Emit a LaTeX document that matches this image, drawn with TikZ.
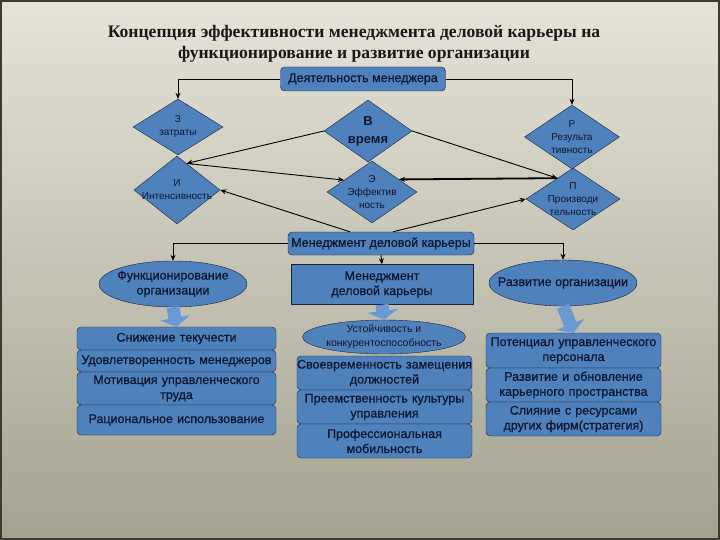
\documentclass[tikz,border=0pt]{standalone}
\usepackage{fontspec}
\setmainfont{Liberation Sans}
\newfontfamily\titlefont{Liberation Serif}
\newfontfamily\boxfont[FakeBold=0.8]{Liberation Sans}
\usetikzlibrary{arrows.meta, positioning, shapes.geometric}
\definecolor{bgTop}{HTML}{E6E4D9}
\definecolor{bgBot}{HTML}{A4A290}
\definecolor{bgEdge}{HTML}{3C3B33}
\definecolor{mBlue}{HTML}{4F81BD}
\definecolor{mArrow}{HTML}{6A99D4}
\definecolor{mInk}{HTML}{0E1630}
\definecolor{mLine}{HTML}{1B2233}

\begin{document}
\begin{tikzpicture}[x=1pt, y=-1pt, >={Stealth[length=6pt, width=5pt]},
      dia/.style={diamond, draw=mLine, fill=mBlue, inner sep=0pt},
      dtxt/.style={align=center, inner sep=0pt, text=mInk,
                   font=\fontsize{10}{13}\selectfont},
      rbox/.style={rectangle, rounded corners=4pt, draw=mLine, fill=mBlue,
                   text=mInk, align=center, inner sep=1pt,
                   font=\boxfont\fontsize{12.5}{15}\selectfont},
      sbox/.style={rbox, rounded corners=0pt},
      oval/.style={ellipse, draw=mLine, fill=mBlue, text=mInk, align=center,
                   inner xsep=-13pt, inner ysep=0pt,
                   font=\boxfont\fontsize{12.5}{15}\selectfont},
      lcol/.style={rbox, text width=209pt, inner xsep=-5pt},
      ccol/.style={rbox, text width=185pt, inner xsep=-5pt},
      barrow/.style={line width=13pt, mArrow,
                     -{Triangle[width=30pt, length=9pt]}},
      conn/.style={->, line width=0.9pt, black}]
    \useasboundingbox (0,0) rectangle (720,540);
    \shade[top color=bgTop, bottom color=bgBot] (0,0) rectangle (720,540);
    \draw[line width=2pt, bgEdge] (1,1) rectangle (719,539);

    % title
    \node[align=center, text=black!90,
          font=\titlefont\bfseries\fontsize{17.6}{21}\selectfont] (title) at (354,44)
      {Концепция эффективности менеджмента деловой карьеры на\\
       функционирование и развитие организации};

    % upper part
    \node[rbox, minimum width=165, minimum height=24] (dm) at (363,79) {Деятельность менеджера};

    \node[dia, minimum width=90, minimum height=56,
          label={[dtxt]center:{З\\затраты}}] (z) at (178,127) {};
    \node[dia, minimum width=86, minimum height=68,
          label={[dtxt]center:{И\\Интенсивность}}] (i) at (177,190) {};
    \node[dia, minimum width=88, minimum height=62,
          label={[dtxt, font=\bfseries\fontsize{13}{18}\selectfont]center:{В\\время}}] (v) at (368,131) {};
    \node[dia, minimum width=90, minimum height=62,
          label={[dtxt]center:{Э\\Эффектив\\ность}}] (e) at (372,192) {};
    \node[dia, minimum width=95, minimum height=64,
          label={[dtxt]center:{Р\\Результа\\тивность}}] (r) at (572,137) {};
    \node[dia, minimum width=94, minimum height=62,
          label={[dtxt]center:{П\\Производи\\тельность}}] (p) at (573,199) {};

    \draw[conn] (dm.west) -| (z.north);
    \draw[conn] (dm.east) -| (r.north);
    \draw[conn] (v.west) -- (i.70);
    \draw[conn] (i.70) -- (e.157);
    \draw[conn] (v.east) -- (p.127);
    \draw[conn, line width=1.8pt] (p.127) -- (e.25);

    % management of the career
    \node[rbox, minimum width=186, minimum height=23] (mdk) at (381,243.5) {Менеджмент деловой карьеры};
    \draw[conn] ([xshift=-31pt]mdk.north) -- (i.east);
    \draw[conn] ([xshift=12pt]mdk.north) -- (p.west);

    \node[oval, minimum width=148, minimum height=46] (fo) at (173,284) {Функционирование\\организации};
    \node[sbox, minimum width=182, minimum height=40] (mr) at (382,284.5) {Менеджмент\\деловой карьеры};
    \node[oval, minimum width=148, minimum height=46] (ro) at (563,283) {Развитие организации};

    \draw[conn] (mdk.west) -| (fo.north);
    \draw[conn] (mdk.east) -| (ro.north);
    \draw[conn] (mdk.south) -- (mr.north);

    \node[oval, minimum width=163, minimum height=34,
          font=\fontsize{10.5}{14}\selectfont] (uk) at (384,337) {Устойчивость и\\конкурентоспособность};

    % left column
    \node[lcol, minimum height=23] (l1) at (176.5,338.5) {Снижение текучести};
    \node[lcol, minimum height=22] (l2) at (176.5,361) {Удовлетворенность менеджеров};
    \node[lcol, minimum height=33] (l3) at (176.5,388.5) {Мотивация управленческого\\труда};
    \node[lcol, minimum height=30] (l4) at (176.5,420) {Рациональное использование};

    % middle column
    \node[ccol, minimum height=34] (c1) at (384.5,373) {Своевременность замещения\\должностей};
    \node[ccol, minimum height=34] (c2) at (384.5,407) {Преемственность культуры\\управления};
    \node[ccol, minimum height=34] (c3) at (384.5,441) {Профессиональная\\мобильность};

    % right column
    \node[ccol, minimum height=35] (r1) at (573.5,350.5) {Потенциал управленческого\\персонала};
    \node[ccol, minimum height=34] (r2) at (573.5,385) {Развитие и обновление\\карьерного пространства};
    \node[ccol, minimum height=34] (r3) at (573.5,419) {Слияние с ресурсами\\других фирм(стратегия)};

    \draw[barrow] (fo.south) -- (l1.north);
    \draw[barrow] (mr.south) -- (uk.north);
    \draw[barrow] (ro.south) -- (r1.north);
\end{tikzpicture}
\end{document}
